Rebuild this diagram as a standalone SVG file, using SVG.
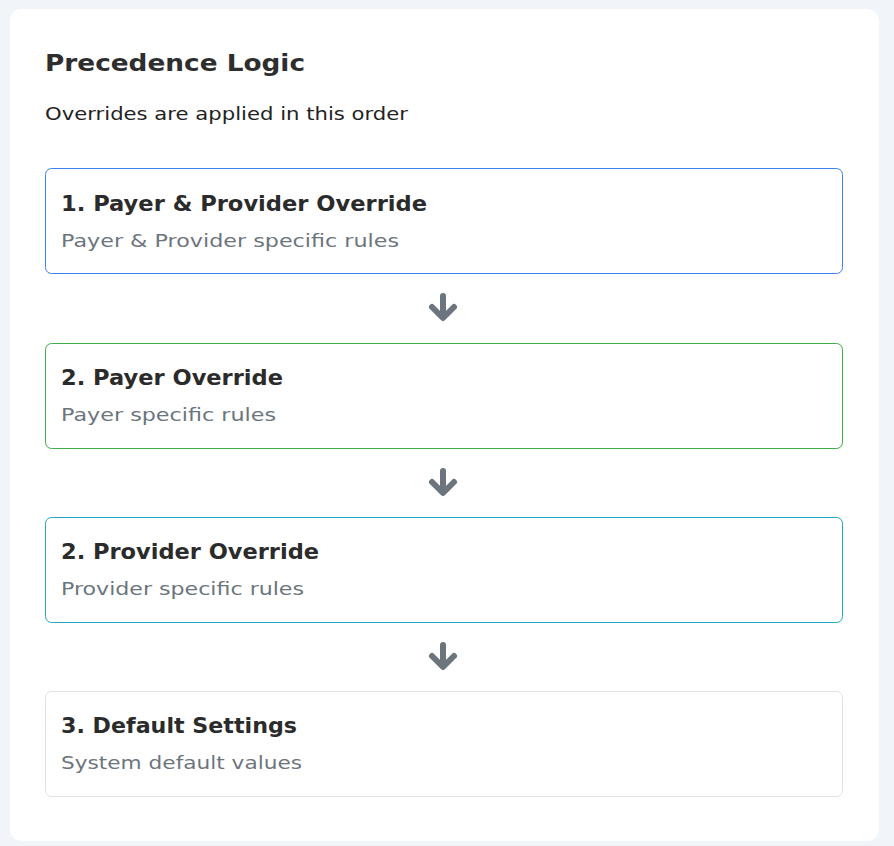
<svg xmlns="http://www.w3.org/2000/svg" width="894" height="846" viewBox="0 0 894 846">
<style>
.bg{fill:#f1f4f9}
.card{fill:#ffffff}
.box{fill:#ffffff;stroke-width:1}
.h1{font-family:"DejaVu Sans","Liberation Sans",Arial,sans-serif;font-weight:bold;font-size:23px;fill:#2e2e2e}
.sub{font-family:"DejaVu Sans","Liberation Sans",Arial,sans-serif;font-size:18px;fill:#222222}
.t{font-family:"DejaVu Sans","Liberation Sans",Arial,sans-serif;font-weight:bold;font-size:21px;fill:#2b2b2b}
.d{font-family:"DejaVu Sans","Liberation Sans",Arial,sans-serif;font-size:18px;fill:#6c757d}
.arr{fill:none;stroke:#6c757d;stroke-width:6;stroke-linecap:round;stroke-linejoin:round}
</style>
<rect class="bg" x="0" y="0" width="894" height="846"/>
<rect class="card" x="10" y="9" width="869" height="832" rx="12"/>
<text class="h1" x="45" y="71" textLength="260" lengthAdjust="spacingAndGlyphs">Precedence Logic</text>
<text class="sub" x="45" y="120" textLength="363" lengthAdjust="spacingAndGlyphs">Overrides are applied in this order</text>
<g id="node1">
<rect class="box" x="45.5" y="168.5" width="797" height="105" rx="6" stroke="#3b82f6"/>
<text class="t" x="61" y="211" textLength="366" lengthAdjust="spacingAndGlyphs">1. Payer &amp; Provider Override</text>
<text class="d" x="61" y="247" textLength="338" lengthAdjust="spacingAndGlyphs">Payer &amp; Provider specific rules</text>
</g>
<g id="node2">
<rect class="box" x="45.5" y="343.5" width="797" height="105" rx="6" stroke="#3fae49"/>
<text class="t" x="61" y="385" textLength="222" lengthAdjust="spacingAndGlyphs">2. Payer Override</text>
<text class="d" x="61" y="421" textLength="215" lengthAdjust="spacingAndGlyphs">Payer specific rules</text>
</g>
<g id="node3">
<rect class="box" x="45.5" y="517.5" width="797" height="105" rx="6" stroke="#23a6c0"/>
<text class="t" x="61" y="559" textLength="258" lengthAdjust="spacingAndGlyphs">2. Provider Override</text>
<text class="d" x="61" y="595" textLength="243" lengthAdjust="spacingAndGlyphs">Provider specific rules</text>
</g>
<g id="node4">
<rect class="box" x="45.5" y="691.5" width="797" height="105" rx="6" stroke="#dee2e6"/>
<text class="t" x="61" y="733" textLength="236" lengthAdjust="spacingAndGlyphs">3. Default Settings</text>
<text class="d" x="61" y="769" textLength="241" lengthAdjust="spacingAndGlyphs">System default values</text>
</g>
<g id="connectors">
<path class="arr" d="M443 296 V317 M432 307 L443 318 L454 307"/>
<path class="arr" d="M443 471 V492 M432 482 L443 493 L454 482"/>
<path class="arr" d="M443 645 V666 M432 656 L443 667 L454 656"/>
</g>
</svg>
